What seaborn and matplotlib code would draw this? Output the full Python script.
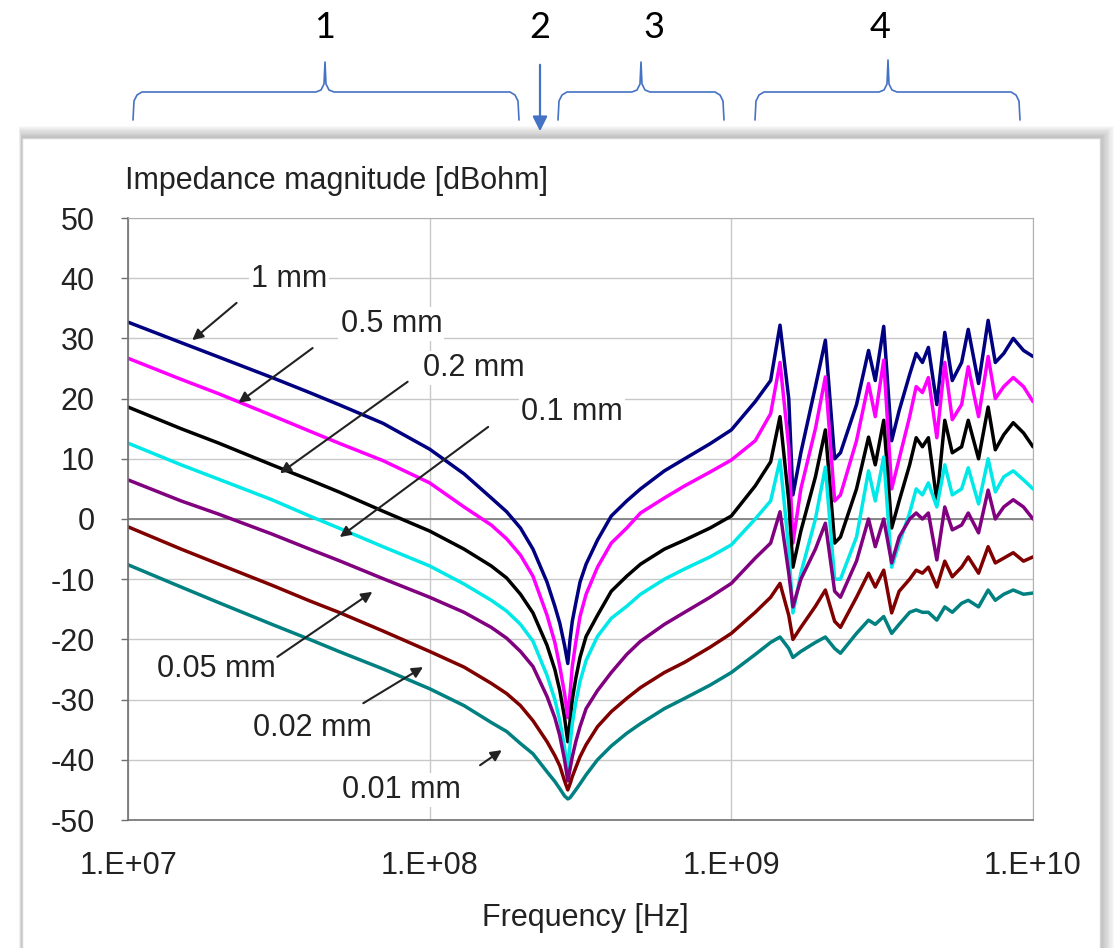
import pandas as pd
import seaborn as sns
import matplotlib.pyplot as plt
from matplotlib.patches import Rectangle

# frequency points [Hz]
freqHz = [1.0e7, 1.5e7, 2.0e7, 3.0e7, 4.0e7, 5.0e7, 7.0e7,
          1.0e8, 1.3e8, 1.6e8, 1.8e8, 2.0e8, 2.2e8, 2.45e8, 2.6e8, 2.7e8, 2.8e8, 2.87e8, 2.92e8, 2.97e8,
          3.05e8, 3.15e8, 3.3e8, 3.6e8, 4.0e8, 4.5e8, 5.0e8, 6.0e8, 7.0e8, 8.5e8,
          1.0e9, 1.2e9, 1.35e9, 1.45e9, 1.55e9, 1.6e9, 1.7e9, 1.9e9, 2.05e9, 2.2e9, 2.3e9, 2.6e9, 2.85e9,
          3.0e9, 3.2e9, 3.4e9, 3.6e9, 3.9e9, 4.1e9, 4.3e9, 4.5e9, 4.8e9,
          5.1e9, 5.4e9, 5.8e9, 6.1e9, 6.6e9, 7.1e9, 7.5e9, 8.0e9, 8.6e9, 9.3e9, 1.0e10]

# impedance magnitude [dBohm] per thickness
z1mm = [32.7, 29.3, 26.9, 23.5, 21, 19, 15.9,
        11.6, 7.5, 3.5, 1.2, -1.5, -5, -10.5, -14.5, -17.3, -21, -24, -20, -17,
        -14, -10.5, -7.5, -3.5, 0.5, 3, 5, 8, 10, 12.5,
        14.8, 19.5, 23, 32.2, 20, 4, 11, 22, 29.7, 10, 11, 19, 28,
        23, 32, 13, 18, 24, 27.5, 26, 28.5, 19,
        31, 23, 26, 31.5, 22.5, 33, 26, 27.5, 30, 28, 27]
z05mm = [26.7, 23.2, 20.8, 17.2, 14.6, 12.6, 9.7,
         6, 2, -1, -3.3, -6, -9.5, -16, -20.5, -24.5, -29, -33, -29, -24.5,
         -20.5, -16.2, -12.5, -8, -4, -1.5, 1, 3.5, 5.5, 7.8,
         9.8, 13, 17.5, 26, 12, -4, 5, 15, 23.6, 3, 4, 13, 22.5,
         17, 26.4, 5, 10, 17, 22, 21, 23.5, 13.5,
         26, 16.5, 19, 25.3, 17, 27, 20, 22, 23.5, 22, 19.5]
z02mm = [18.6, 15, 12.6, 9, 6.5, 4.5, 1.3,
         -2, -5, -7.8, -9.8, -12.5, -15.6, -21, -25, -28.5, -33, -37, -33.5, -30,
         -26.5, -23, -19.5, -16, -12, -9.5, -7.5, -5, -3.5, -1.5,
         0.5, 5.5, 9.5, 17, 3, -8, -2, 7, 14.8, -4, -3, 5, 13.6,
         9, 16.4, -1.5, 3, 9, 13.5, 12, 13.5, 3,
         16.4, 11, 12, 16.4, 10, 18.6, 11.5, 14, 16, 14.3, 12]
z01mm = [12.6, 9, 6.6, 3.2, 0.5, -1.5, -4.6,
         -7.8, -10.8, -13.5, -15.3, -17.5, -20.3, -26, -30, -33.5, -38, -41.5, -37.5, -34,
         -30.5, -27, -23.5, -19.5, -16.5, -14.5, -12.5, -10, -8.3, -6.3,
         -4.3, 0, 3, 9.8, -5, -15.6, -9, 0, 8.6, -10, -10, -3, 8,
         3, 10.3, -8, -4, 1, 5, 4, 6, 2,
         9, 4, 5, 8.5, 2.5, 10, 4.5, 7, 8, 6.5, 5]
z005mm = [6.5, 3, 0.8, -2.5, -5, -6.9, -9.9,
          -13, -15.5, -18, -19.8, -22, -24.5, -29.5, -33, -36, -40, -43.5, -41.5, -39.5,
          -37, -34.5, -31.5, -28.5, -25.5, -22.5, -20.3, -17.5, -15.5, -13,
          -10.7, -6.5, -4, 1.2, -9, -14.6, -10, -5, -0.7, -12, -13, -7, 0,
          -4.6, 0, -7.3, -3, 0, 1, 0, 1, -6.8,
          2, -1.8, -1, 1, -2.3, 4.8, 0, 2, 3.2, 2, 0]
z002mm = [-1.3, -5, -7.5, -11, -13.6, -15.5, -18.6,
          -22, -24.6, -27.3, -29, -31, -33.5, -37, -39.3, -41, -43.5, -45, -44, -42.8,
          -41.3, -39.5, -37.5, -34.5, -32, -29.8, -28, -25.5, -23.8, -21.3,
          -19, -15.5, -13, -10.7, -16, -20, -18, -14.5, -11.8, -17, -18, -13, -9,
          -11.3, -8.5, -15.6, -12, -10, -8.5, -9, -8, -11.3,
          -7, -9.6, -8, -6.3, -9, -4.6, -7.3, -6.5, -5.6, -7, -6.3]
z001mm = [-7.6, -11.3, -13.9, -17.5, -20, -22, -24.9,
          -28.2, -31, -33.8, -35.3, -37.3, -39, -42, -43.6, -44.8, -46, -46.5, -46.3, -45.8,
          -45, -44, -42.5, -40, -37.7, -35.6, -34, -31.5, -29.8, -27.6,
          -25.5, -22.5, -20.5, -19.6, -21.5, -23, -22, -20.5, -19.6, -21.5, -22.3, -19, -16.8,
          -17.5, -16.2, -19, -17.5, -15.5, -15.1, -15.5, -15.5, -16.8,
          -14.6, -15.5, -14, -13.5, -14.6, -11.8, -13.5, -12.5, -11.8, -12.5, -12.3]

seriesNames = ['1 mm', '0.5 mm', '0.2 mm', '0.1 mm', '0.05 mm', '0.02 mm', '0.01 mm']
seriesVals = [z1mm, z05mm, z02mm, z01mm, z005mm, z002mm, z001mm]
seriesColors = ['#000080', '#ff00ff', '#000000', '#00e8e8', '#800080', '#800000', '#008080']

xTicks = [1e7, 1e8, 1e9, 1e10]
xTickLabels = ['1.E+07', '1.E+08', '1.E+09', '1.E+10']
yTicks = list(range(-50, 51, 10))

frames = [pd.DataFrame({'Frequency': freqHz, 'Impedance': v, 'Thickness': n})
          for n, v in zip(seriesNames, seriesVals)]
dfImp = pd.concat(frames, ignore_index=True)

sns.set_style("white")
plt.rcParams['font.family'] = ['Liberation Sans', 'DejaVu Sans']
plt.rcParams['axes.unicode_minus'] = False
textCol = '#222222'

fig = plt.figure(figsize=(11.19, 9.48), dpi=100)
fig.patch.set_facecolor('white')

# background layer in pixel coords: panel with shadow, braces, numbers
bg = fig.add_axes([0, 0, 1, 1], zorder=-1)
bg.set_xlim(0, 1119)
bg.set_ylim(948, 0)
bg.axis('off')
for i in range(12):
    bg.add_patch(Rectangle((22 - i * 0.3, 138 - i * 1.1), 1078 + i * 1.6, 900,
                           facecolor='black', alpha=0.025, lw=0))
bg.add_patch(Rectangle((22, 138), 1078, 850, facecolor='white', edgecolor='#d4d4d4', lw=1))

braceCol = '#4472c4'
def brace(x0, x1, xc, yPeak=62):
    xs = [x0, x0 + 1, x0 + 4, x0 + 9, xc - 9, xc - 4, xc - 1, xc, xc + 1, xc + 4, xc + 9, x1 - 9, x1 - 4, x1 - 1, x1]
    ys = [120, 101, 95, 92, 92, 90, 84, yPeak, 84, 90, 92, 92, 95, 101, 120]
    bg.plot(xs, ys, color=braceCol, lw=1.2, solid_capstyle='round')

brace(133, 519, 325)
brace(558, 724, 641)
brace(755, 1020, 888, 60)
bg.annotate('', xy=(540, 134), xytext=(540, 62),
            arrowprops=dict(arrowstyle='-|>', color=braceCol, lw=1.6, mutation_scale=22))
for lab, xp in zip(['1', '2', '3', '4'], [325, 540, 654, 880]):
    bg.text(xp, 27, lab, fontsize=26, ha='center', va='center', color='black',
            family=['Lato', 'DejaVu Sans'])

# main chart
ax = fig.add_axes([128 / 1119, 128 / 948, 905 / 1119, 602 / 948])
sns.lineplot(data=dfImp, x='Frequency', y='Impedance', hue='Thickness',
             palette=seriesColors, hue_order=seriesNames, estimator=None,
             sort=False, lw=2.5, legend=False, ax=ax)
ax.set_xscale('log')
ax.set_xlim(1e7, 1e10)
ax.set_ylim(-50, 50)
ax.set_xticks(xTicks)
ax.set_xticklabels(xTickLabels)
ax.minorticks_off()
ax.set_yticks(yTicks)
ax.grid(True, color='#c8c8c8', lw=1)
ax.axhline(0, color='#808080', lw=1.3, zorder=1.5)
ax.set_xlabel('')
ax.set_ylabel('')
for side in ['top', 'right']:
    ax.spines[side].set_color('#b0b0b0')
for side in ['left', 'bottom']:
    ax.spines[side].set_color('#707070')
    ax.spines[side].set_linewidth(1.2)
ax.tick_params(axis='y', direction='out', left=True, length=5, width=1, color='#707070',
               pad=19, labelsize=22, labelcolor=textCol)
ax.tick_params(axis='x', length=0, pad=22, labelsize=22, labelcolor=textCol)

# thickness labels with arrows (axes fraction)
labelPos = [(0.178, 0.899), (0.291, 0.824), (0.382, 0.751), (0.491, 0.678),
            (0.098, 0.251), (0.204, 0.153), (0.302, 0.050)]
arrowTail = [(0.120, 0.859), (0.204, 0.784), (0.309, 0.728), (0.398, 0.653),
             (0.165, 0.271), (0.260, 0.194), (0.389, 0.091)]
arrowHead = [(0.071, 0.797), (0.122, 0.693), (0.168, 0.576), (0.234, 0.470),
             (0.270, 0.379), (0.326, 0.254), (0.413, 0.116)]
for name, lp, tl, hd in zip(seriesNames, labelPos, arrowTail, arrowHead):
    ax.text(lp[0], lp[1], name, transform=ax.transAxes, fontsize=22, ha='center', va='center',
            color=textCol, zorder=5, bbox=dict(facecolor='white', edgecolor='none', pad=1.5))
    ax.annotate('', xy=hd, xycoords='axes fraction', xytext=tl, textcoords='axes fraction',
                arrowprops=dict(arrowstyle='-|>', color=textCol, lw=1.5, mutation_scale=16,
                                shrinkA=0, shrinkB=0), zorder=6)

fig.text(125 / 1119, 1 - 181 / 948, 'Impedance magnitude [dBohm]', fontsize=22,
         ha='left', va='center', color=textCol)
fig.text(585 / 1119, 1 - 918 / 948, 'Frequency [Hz]', fontsize=22,
         ha='center', va='center', color=textCol)

plt.savefig('out.png', dpi=100)
